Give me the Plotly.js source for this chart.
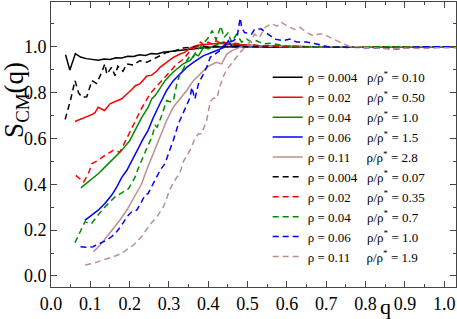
<!DOCTYPE html>
<html>
<head>
<meta charset="utf-8">
<script src="https://cdn.plot.ly/plotly-3.0.1.min.js"></script>
<style>html,body{margin:0;padding:0;background:#fff;}#chart{width:457px;height:319px;}</style>
</head>
<body>
<div id="chart"></div>
<script>
// ---- data ----
const rhoLabels = ["0.004", "0.02", "0.04", "0.06", "0.11", "0.004", "0.02", "0.04", "0.06", "0.11"];
const ratioLabels = ["0.10", "0.50", "1.0", "1.5", "2.8", "0.07", "0.35", "0.7", "1.0", "1.9"];

const qK1 = [0.037,0.048,0.062,0.075,0.09,0.105,0.12,0.135,0.15,0.165,0.18,0.195,0.21,0.225,0.24,0.255,0.27,0.285,0.3,0.315,0.33,0.345,0.36,0.38,0.4,0.42,0.45,0.48,0.51,0.54,0.57,0.6,0.63,0.66,0.69,0.72,0.75,0.78,0.81,0.84,0.87,0.9,0.93,0.96,0.99,1.02,1.03];
const sK1 = [0.965,0.898,0.97,0.955,0.948,0.943,0.941,0.946,0.944,0.952,0.951,0.958,0.957,0.965,0.962,0.97,0.968,0.976,0.979,0.984,0.986,0.99,0.993,0.996,0.998,0.999,1.0,1.001,1.0,1.0,1.001,1.0,0.999,1.0,1.0,1.0,1.0,0.999,1.0,1.0,1.0,1.0,1.0,1.0,1.0,1.0,1.0];

const qR1 = [0.061,0.075,0.091,0.105,0.112,0.12,0.136,0.15,0.165,0.18,0.193,0.205,0.214,0.226,0.244,0.256,0.27,0.277,0.294,0.311,0.328,0.34,0.354,0.37,0.39,0.41,0.43,0.45,0.47,0.49,0.51,0.54,0.57,0.6,0.63,0.66,0.69,0.72,0.75,0.78,0.81,0.84,0.87,0.9,0.93,0.96,0.99,1.03];
const sR1 = [0.674,0.684,0.693,0.705,0.712,0.736,0.722,0.751,0.762,0.773,0.794,0.812,0.83,0.838,0.872,0.876,0.895,0.91,0.932,0.953,0.968,0.975,0.995,1.005,1.01,1.012,1.015,1.01,1.012,1.008,1.005,1.003,1.002,1.0,1.001,1.0,1.0,0.999,1.0,1.0,1.0,1.0,0.999,1.0,1.0,1.0,1.0,1.0];

const qG1 = [0.076,0.095,0.12,0.146,0.18,0.2,0.214,0.23,0.247,0.256,0.265,0.28,0.29,0.311,0.336,0.354,0.366,0.375,0.388,0.4,0.422,0.438,0.46,0.48,0.5,0.53,0.56,0.59,0.62,0.65,0.68,0.71,0.74,0.77,0.8,0.83,0.86,0.89,0.92,0.95,0.98,1.01,1.03];
const sG1 = [0.384,0.41,0.446,0.49,0.548,0.59,0.635,0.69,0.735,0.772,0.787,0.825,0.852,0.89,0.925,0.94,0.968,0.96,0.997,0.99,1.01,1.02,1.008,1.005,1.006,1.003,1.002,1.0,1.001,0.999,1.0,1.0,1.0,0.999,1.0,1.0,1.0,1.0,1.0,1.0,1.0,1.0,1.0];

const qB1 = [0.086,0.103,0.12,0.137,0.154,0.167,0.18,0.193,0.214,0.235,0.247,0.26,0.277,0.294,0.311,0.328,0.345,0.362,0.388,0.409,0.43,0.44,0.451,0.46,0.47,0.49,0.51,0.54,0.57,0.6,0.63,0.66,0.69,0.72,0.75,0.78,0.81,0.84,0.87,0.9,0.93,0.96,0.99,1.03];
const sB1 = [0.243,0.265,0.287,0.316,0.352,0.388,0.43,0.461,0.533,0.6,0.635,0.69,0.751,0.809,0.852,0.881,0.91,0.932,0.961,0.975,0.99,0.997,1.026,1.0,1.005,1.0,1.002,1.0,0.998,1.0,1.0,0.999,1.0,1.0,1.0,1.0,0.998,1.0,1.0,1.0,1.0,1.0,1.0,1.0];

const qN1 = [0.108,0.125,0.142,0.159,0.175,0.193,0.205,0.218,0.23,0.243,0.26,0.277,0.294,0.311,0.328,0.345,0.362,0.379,0.396,0.42,0.434,0.447,0.46,0.48,0.5,0.52,0.55,0.58,0.61,0.64,0.67,0.7,0.73,0.76,0.79,0.82,0.85,0.88,0.91,0.94,0.97,1.0,1.03];
const sN1 = [0.106,0.135,0.171,0.207,0.243,0.287,0.323,0.36,0.4,0.461,0.533,0.606,0.678,0.736,0.772,0.809,0.852,0.881,0.91,0.932,0.925,0.968,0.983,0.997,1.005,1.003,1.002,1.0,1.001,1.0,0.999,1.0,1.0,0.998,1.0,1.0,1.0,1.0,0.999,1.0,1.0,1.0,1.0];

const qK2 = [0.036,0.05,0.061,0.07,0.078,0.091,0.104,0.116,0.129,0.137,0.142,0.154,0.163,0.17,0.183,0.193,0.209,0.226,0.244,0.26,0.277,0.294,0.31,0.336,0.36,0.38,0.4,0.43,0.46,0.49,0.52,0.55,0.58,0.61,0.64,0.67,0.7,0.73,0.76,0.79,0.82,0.85,0.88,0.91,0.94,0.97,1.0,1.03];
const sK2 = [0.683,0.77,0.852,0.8,0.78,0.782,0.852,0.84,0.888,0.925,0.88,0.91,0.874,0.915,0.893,0.925,0.92,0.939,0.932,0.946,0.96,0.975,0.98,0.994,0.998,1.003,1.0,1.002,1.0,1.001,1.0,0.999,1.0,1.0,1.001,1.0,1.0,0.999,1.0,1.0,1.0,0.999,1.0,1.0,1.0,1.0,1.0,1.0];

const qR2 = [0.063,0.083,0.095,0.104,0.12,0.137,0.158,0.175,0.184,0.205,0.23,0.252,0.27,0.286,0.303,0.32,0.337,0.354,0.371,0.38,0.39,0.4,0.41,0.42,0.43,0.44,0.45,0.47,0.49,0.51,0.53,0.56,0.59,0.62,0.65,0.68,0.71,0.74,0.77,0.8,0.83,0.86,0.89,0.92,0.95,0.98,1.01,1.03];
const sR2 = [0.439,0.41,0.446,0.49,0.504,0.526,0.548,0.54,0.57,0.642,0.73,0.795,0.83,0.86,0.896,0.925,0.946,0.983,1.0,1.02,1.005,1.02,1.01,1.026,1.015,1.02,1.012,1.015,1.008,1.01,1.004,1.005,1.0,1.002,0.998,1.0,1.0,0.999,1.0,1.0,1.0,0.998,1.0,1.0,1.0,1.0,1.0,1.0];

const qG2 = [0.061,0.074,0.086,0.095,0.103,0.116,0.133,0.15,0.163,0.184,0.197,0.205,0.214,0.22,0.23,0.243,0.256,0.265,0.27,0.28,0.294,0.302,0.311,0.32,0.328,0.337,0.345,0.354,0.362,0.371,0.38,0.39,0.398,0.41,0.42,0.432,0.44,0.45,0.459,0.472,0.485,0.498,0.51,0.523,0.54,0.56,0.58,0.6,0.63,0.66,0.69,0.72,0.75,0.78,0.81,0.84,0.87,0.9,0.93,0.96,0.99,1.03];
const sG2 = [0.145,0.19,0.236,0.232,0.229,0.258,0.294,0.323,0.345,0.367,0.381,0.403,0.432,0.461,0.504,0.555,0.603,0.657,0.649,0.693,0.765,0.76,0.762,0.838,0.881,0.903,0.939,0.961,0.955,0.983,1.0,1.02,1.035,1.07,1.03,1.09,1.04,1.06,1.02,1.054,1.02,1.033,1.02,1.026,1.012,1.015,1.008,1.003,0.998,1.0,1.001,1.0,0.997,1.0,1.0,0.999,1.0,1.0,1.0,1.0,1.0,1.0];

const qB2 = [0.075,0.092,0.107,0.125,0.142,0.154,0.167,0.18,0.193,0.205,0.218,0.23,0.239,0.247,0.256,0.265,0.273,0.277,0.29,0.3,0.311,0.324,0.337,0.354,0.358,0.366,0.375,0.383,0.396,0.405,0.417,0.43,0.443,0.451,0.464,0.473,0.481,0.485,0.492,0.51,0.518,0.535,0.552,0.57,0.59,0.608,0.625,0.65,0.676,0.693,0.71,0.75,0.78,0.84,0.88,0.92,0.96,1.0,1.03];
const sB2 = [0.128,0.125,0.128,0.142,0.157,0.171,0.193,0.222,0.258,0.28,0.287,0.323,0.352,0.36,0.388,0.417,0.446,0.461,0.49,0.54,0.591,0.664,0.714,0.78,0.823,0.772,0.838,0.867,0.91,0.954,0.968,0.983,1.01,1.02,1.026,1.04,1.125,1.084,1.062,1.055,1.077,1.077,1.055,1.033,1.026,1.033,1.02,1.02,1.012,1.004,0.997,0.998,0.997,0.994,0.99,0.998,1.0,1.0,1.0];

const qN2 = [0.087,0.108,0.133,0.159,0.18,0.193,0.21,0.23,0.252,0.269,0.286,0.303,0.316,0.328,0.337,0.354,0.366,0.375,0.383,0.396,0.405,0.413,0.422,0.43,0.438,0.447,0.46,0.473,0.481,0.489,0.501,0.518,0.53,0.544,0.561,0.575,0.586,0.603,0.62,0.634,0.65,0.667,0.68,0.693,0.71,0.727,0.74,0.761,0.78,0.82,0.86,0.9,0.94,0.98,1.03];
const sN2 = [0.048,0.055,0.07,0.084,0.099,0.113,0.135,0.171,0.224,0.258,0.301,0.38,0.42,0.45,0.5,0.55,0.6,0.62,0.62,0.68,0.76,0.775,0.775,0.83,0.87,0.9,0.93,0.96,0.975,0.99,1.01,1.055,1.04,1.084,1.1,1.09,1.106,1.088,1.075,1.084,1.062,1.048,1.055,1.055,1.04,1.026,1.015,1.0,1.0,0.995,0.99,0.994,0.992,0.995,0.996];

const xTickVals = [0,0.1,0.2,0.3,0.4,0.5,0.6,0.7,0.8,0.9,1.0];
const yTickVals = [0,0.2,0.4,0.6,0.8,1.0];

// ---- styles ----
const FONT = "Liberation Serif";
const colors = ["#000000","#ff0000","#008b00","#0000ff","#bc8f8f"];
const qSeries = [qK1,qR1,qG1,qB1,qN1,qK2,qR2,qG2,qB2,qN2];
const sSeries = [sK1,sR1,sG1,sB1,sN1,sK2,sR2,sG2,sB2,sN2];

const NB = "\u00a0";
function label(i){
  const pad = rhoLabels[i].length === 5 ? NB+NB+NB : NB+NB+NB+NB+NB;
  return "ρ = " + rhoLabels[i] + pad + "ρ/ρ<sup>*</sup> = " + ratioLabels[i];
}

const traces = qSeries.map((q,i)=>({
  x: q, y: sSeries[i], type: "scatter", mode: "lines",
  name: label(i),
  line: {color: colors[i%5], width: 1.5, dash: i<5 ? "solid" : "6px,4px"}
}));

const axisCommon = {
  showline: true, linecolor: "#444", linewidth: 1, mirror: "allticks",
  ticks: "inside", ticklen: 6, tickwidth: 1, tickcolor: "#444",
  showgrid: false, zeroline: false,
  tickfont: {family: FONT, size: 18, color: "#000"},
  tickformat: ".1f"
};

const layout = {
  width: 457, height: 319,
  margin: {l: 51, r: 1, t: 2, b: 32},
  paper_bgcolor: "#fff", plot_bgcolor: "#fff",
  font: {family: FONT},
  showlegend: true,
  legend: {
    x: 0.535, y: 0.788, xanchor: "left", yanchor: "top",
    bgcolor: "rgba(0,0,0,0)", borderwidth: 0,
    font: {family: FONT, size: 13, color: "#000"},
    itemwidth: 30, tracegroupgap: 0
  },
  xaxis: Object.assign({}, axisCommon, {
    range: [0, 1.03], tickvals: xTickVals,
    minor: {dtick: 0.05, ticks: "inside", ticklen: 3, tickcolor: "#444", showgrid: false}
  }),
  yaxis: Object.assign({}, axisCommon, {
    range: [-0.048, 1.195], tickvals: yTickVals,
    minor: {dtick: 0.1, ticks: "inside", ticklen: 3, tickcolor: "#444", showgrid: false}
  }),
  annotations: [
    {text: "S<sub>CM</sub>(q)", xref: "paper", yref: "paper", x: -0.085, y: 0.655,
     xanchor: "center", yanchor: "middle", textangle: -90, showarrow: false,
     font: {family: FONT, size: 27, color: "#000"}},
    {text: "q", xref: "paper", yref: "paper", x: 0.827, y: -0.07,
     xanchor: "center", yanchor: "middle", showarrow: false,
     font: {family: FONT, size: 22, color: "#000"}}
  ]
};

Plotly.newPlot("chart", traces, layout, {staticPlot: true, displayModeBar: false});
</script>
</body>
</html>
